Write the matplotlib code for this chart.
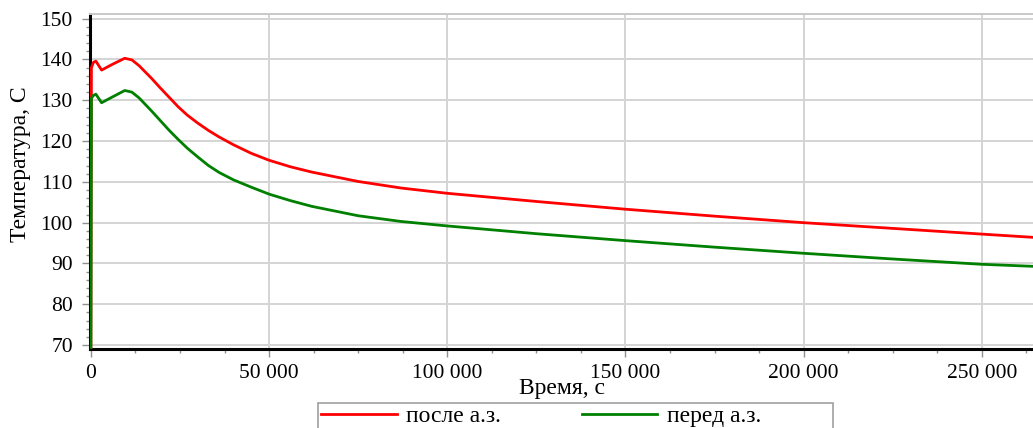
import matplotlib
matplotlib.use("Agg")
import matplotlib.pyplot as plt
from matplotlib.ticker import MultipleLocator, FuncFormatter
from matplotlib.lines import Line2D
from matplotlib.patches import Rectangle

# Time, s
time_s = [0, 150, 700, 1400, 3000, 6000, 9500, 11500, 13500, 17000, 19500, 22000,
          24500, 27000, 30000, 33000, 36000, 40000, 45000, 50000, 56000, 62000,
          75000, 87000, 100000, 125000, 150000, 175000, 200000, 225000, 250000, 264500]
# Temperature after the core, C
temp_after = [69.0, 138.0, 139.3, 139.6, 137.4, 138.8, 140.3, 139.9, 138.5, 135.4, 133.0, 130.7,
              128.4, 126.4, 124.4, 122.6, 121.0, 119.1, 117.0, 115.3, 113.7, 112.4,
              110.1, 108.5, 107.2, 105.2, 103.3, 101.6, 100.0, 98.6, 97.2, 96.4]
# Temperature before the core, C
temp_before = [69.0, 130.5, 131.2, 131.5, 129.4, 130.8, 132.4, 132.0, 130.6, 127.4, 125.0, 122.6,
               120.4, 118.3, 116.1, 114.0, 112.3, 110.5, 108.7, 107.0, 105.4, 104.0,
               101.7, 100.3, 99.2, 97.3, 95.6, 94.0, 92.5, 91.1, 89.8, 89.3]

labels = ["после а.з.", "перед а.з."]
colors = ["#ff0000", "#008000"]

plt.rcParams["font.family"] = ["Liberation Serif", "DejaVu Serif"]
FS_TICK = 15.5
FS_LABEL = 17

W, H = 1033, 428
fig = plt.figure(figsize=(W / 100, H / 100), dpi=100)
left, right, top, bottom = 89.5, 1033, 14, 349
ax = fig.add_axes([left / W, 1 - bottom / H, (right - left) / W, (bottom - top) / H])

ax.plot(time_s, temp_after, color=colors[0], lw=2.0, zorder=3)
ax.plot(time_s, temp_before, color=colors[1], lw=2.0, zorder=3)

ax.set_xlim(-390, 264340)
ax.set_ylim(69.04, 151.15)

ax.xaxis.set_major_locator(MultipleLocator(50000))
ax.xaxis.set_minor_locator(MultipleLocator(12500))
ax.yaxis.set_major_locator(MultipleLocator(10))
ax.yaxis.set_minor_locator(MultipleLocator(2))
ax.xaxis.set_major_formatter(FuncFormatter(lambda v, p: f"{int(v):,}".replace(",", " ")))

ax.grid(True, which="major", color="#d4d4d4", lw=1.4, zorder=0)
ax.tick_params(axis="both", which="major", labelsize=FS_TICK, color="#909090", length=6, width=1)
ax.tick_params(axis="both", which="minor", color="#909090", length=3, width=1)
ax.tick_params(axis="y", pad=6)
ax.tick_params(axis="x", pad=5)

for s in ("left", "bottom"):
    ax.spines[s].set_color("black")
    ax.spines[s].set_linewidth(2.2)
ax.spines["right"].set_visible(False)
ax.spines["top"].set_color("#c8c8c8")
ax.spines["top"].set_linewidth(1.4)

fig.text(562 / W, 1 - 394 / H, "Время, с", ha="center", va="baseline", fontsize=FS_LABEL)
fig.text(21 / W, 1 - 164 / H, "Температура, С", ha="center", va="center",
         rotation=90, fontsize=FS_LABEL)

# Legend box below the axes
fig.patches.append(Rectangle((318 / W, 1 - 440 / H), (833 - 318) / W, 37 / H,
                             transform=fig.transFigure, facecolor="white",
                             edgecolor="#a0a0a0", lw=1.2))
handles = [Line2D([], [], color=c, lw=2.0) for c in colors]
fig.legend(handles, labels, loc="center left", ncol=2, frameon=False,
           bbox_to_anchor=(321 / W, 1 - 416 / H), fontsize=FS_LABEL,
           handlelength=3.2, handletextpad=0.42, columnspacing=3.4,
           borderpad=0.0, borderaxespad=0.0)

fig.savefig("out.png", dpi=100)
